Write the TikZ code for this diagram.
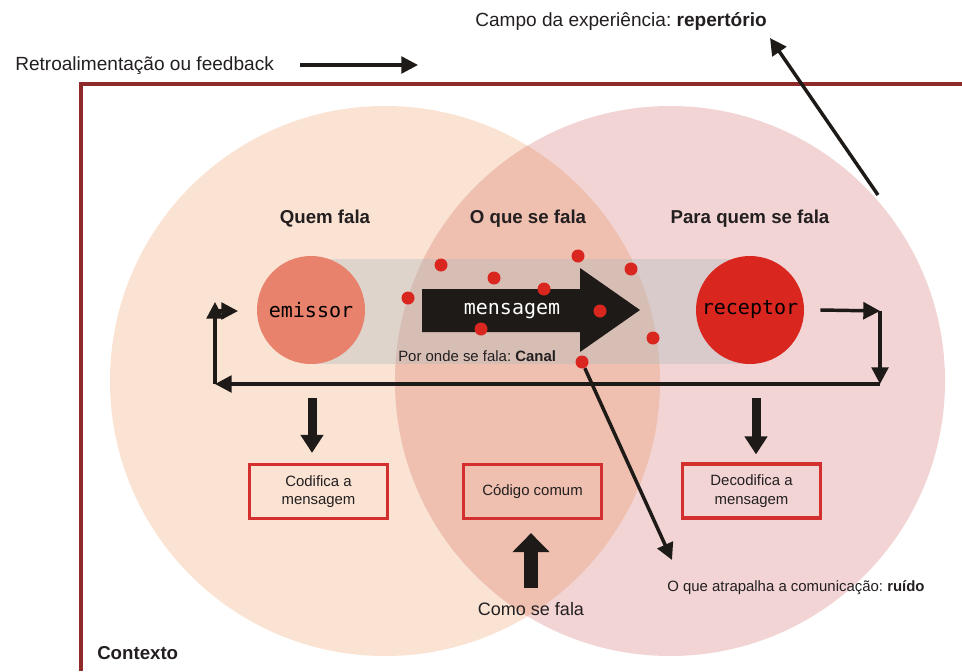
\documentclass[tikz,border=0pt]{standalone}
\usepackage{fontspec}
\setmainfont{Liberation Sans}
\setmonofont{DejaVu Sans Mono}
\usetikzlibrary{arrows.meta}
\frenchspacing
\definecolor{peach}{HTML}{FBE3D3}
\definecolor{pinkc}{HTML}{F2D4D4}
\definecolor{overlapc}{HTML}{EFBFAF}
\definecolor{framec}{HTML}{8E2A2A}
\definecolor{ink}{HTML}{1E1A17}
\definecolor{txt}{HTML}{231F20}
\definecolor{emis}{HTML}{E8826C}
\definecolor{recep}{HTML}{D9261E}
\definecolor{boxred}{HTML}{D32F2F}
\definecolor{bandc}{HTML}{B4BEC0}
\tikzset{
  head/.style={text=txt, inner sep=0pt, font=\fontsize{14pt}{16pt}\selectfont\bfseries},
  small/.style={text=txt, inner sep=0pt, font=\fontsize{11.2pt}{13pt}\selectfont},
  bubble/.style={circle, minimum size=81pt, inner sep=0pt, font=\fontsize{15pt}{17pt}\ttfamily},
  box/.style={draw=boxred, line width=2.4pt, minimum width=103.5pt, minimum height=40.5pt, align=center, inner sep=0pt, text=txt, font=\fontsize{11.2pt}{14pt}\selectfont},
  dot/.style={circle, fill=recep, minimum size=9.75pt, inner sep=0pt},
  arr/.style={draw=ink, line width=2.6pt, -{Triangle[length=12.5pt,width=12.5pt]}},
  blockdown/.style={draw=ink, line width=6.75pt, -{Triangle[length=13.5pt,width=16.5pt]}},
  blockup/.style={draw=ink, line width=10.5pt, -{Triangle[length=14.25pt,width=27pt]}}
}
\begin{document}
\begin{tikzpicture}[x=0.75pt,y=-0.75pt]
\useasboundingbox (0,0) rectangle (962,671);
% circles
\fill[peach] (385,381) circle (275);
\fill[pinkc] (670,381) circle (275);
\begin{scope}
  \clip (385,381) circle (275);
  \fill[overlapc] (670,381) circle (275);
\end{scope}
% frame
\draw[framec, line width=2.4pt] (962,84) -- (81,84) -- (81,671);
% band
\fill[bandc, fill opacity=0.4] (311,259) rectangle (750,364);
% bubbles
\node[bubble, fill=emis] (emissor) at (311,310) {emissor};
\node[bubble, fill=recep] (receptor) at (750,310) {receptor};
% message arrow
\fill[ink] (422,289) -- (580,289) -- (580,268) -- (640,310) -- (580,352) -- (580,332) -- (422,332) -- cycle;
\node[text=white, inner sep=0pt, font=\fontsize{15pt}{17pt}\ttfamily] (msg) at (512,311) {mensagem};
% dots
\node[dot] (d1) at (441,265) {};
\node[dot] (d2) at (494,278) {};
\node[dot] (d3) at (578,256) {};
\node[dot] (d4) at (631,269) {};
\node[dot] (d5) at (408,298) {};
\node[dot] (d6) at (544,289) {};
\node[dot] (d7) at (600,311) {};
\node[dot] (d8) at (481,329) {};
\node[dot] (d9) at (653,338) {};
% headings
\node[head] (quem) at (325,219) {Quem fala};
\node[head] (oque) at (528,219) {O que se fala};
\node[head] (para) at (750,219) {Para quem se fala};
\node[small, anchor=west] (canal) at (398,356) {Por onde se fala: \textbf{Canal}};
% feedback loop
\coordinate (rB) at (880,311);
\coordinate (rC) at (880,384);
\coordinate (lC) at (215,384);
\coordinate (lB) at (215,302);
\coordinate (lA) at (215,311);
\coordinate (lD) at (238,311);
\draw[arr] ([xshift=12pt]receptor.east) -- (rB);
\draw[arr] (rB) -- (rC);
\draw[arr] (rC) -- (lC);
\draw[arr] (lC) -- (lB);
\draw[arr] (lA) -- (lD);
% boxes
\node[box] (cod) at (318.5,491.5) {Codifica a\\mensagem};
\node[box] (comum) at (532.5,491.5) {Código comum};
\node[box] (dec) at (751.5,491) {Decodifica a\\mensagem};
% block arrows
\coordinate (cdtop) at (312,398);
\coordinate (ddtop) at (756,398);
\coordinate (uptail) at (531,588);
\draw[blockdown] (cdtop) -- ([yshift=7.5pt]cod.north -| cdtop);
\draw[blockdown] (ddtop) -- ([yshift=6pt]dec.north -| ddtop);
\draw[blockup] (uptail) -- ([yshift=-9.75pt]comum.south -| uptail);
\node[text=txt, inner sep=0pt, font=\fontsize{13.5pt}{16pt}\selectfont] (como) at (531,609) {Como se fala};
% noise
\node[dot] (d10) at (582,362) {};
\node[small, anchor=west] (ruido) at (667,588) {O que atrapalha a comunicação: \textbf{ruído}};
\coordinate (noiseend) at (672,560);
\draw[arr] (d10) -- (noiseend);
% top labels
\node[text=txt, inner sep=0pt, anchor=west, font=\fontsize{14.3pt}{16pt}\selectfont] (campo) at (475,21) {Campo da experiência: \textbf{repertório}};
\coordinate (repA) at (878,195);
\coordinate (repB) at (770,38);
\draw[arr] (repA) -- (repB);
\node[text=txt, inner sep=0pt, anchor=west, font=\fontsize{14.3pt}{16pt}\selectfont] (retro) at (15,66) {Retroalimentação ou feedback};
\coordinate (fbA) at (300,65);
\coordinate (fbB) at (418,65);
\draw[arr] (fbA) -- (fbB);
\node[head, anchor=west] (contexto) at (97,653) {Contexto};
\end{tikzpicture}
\end{document}
